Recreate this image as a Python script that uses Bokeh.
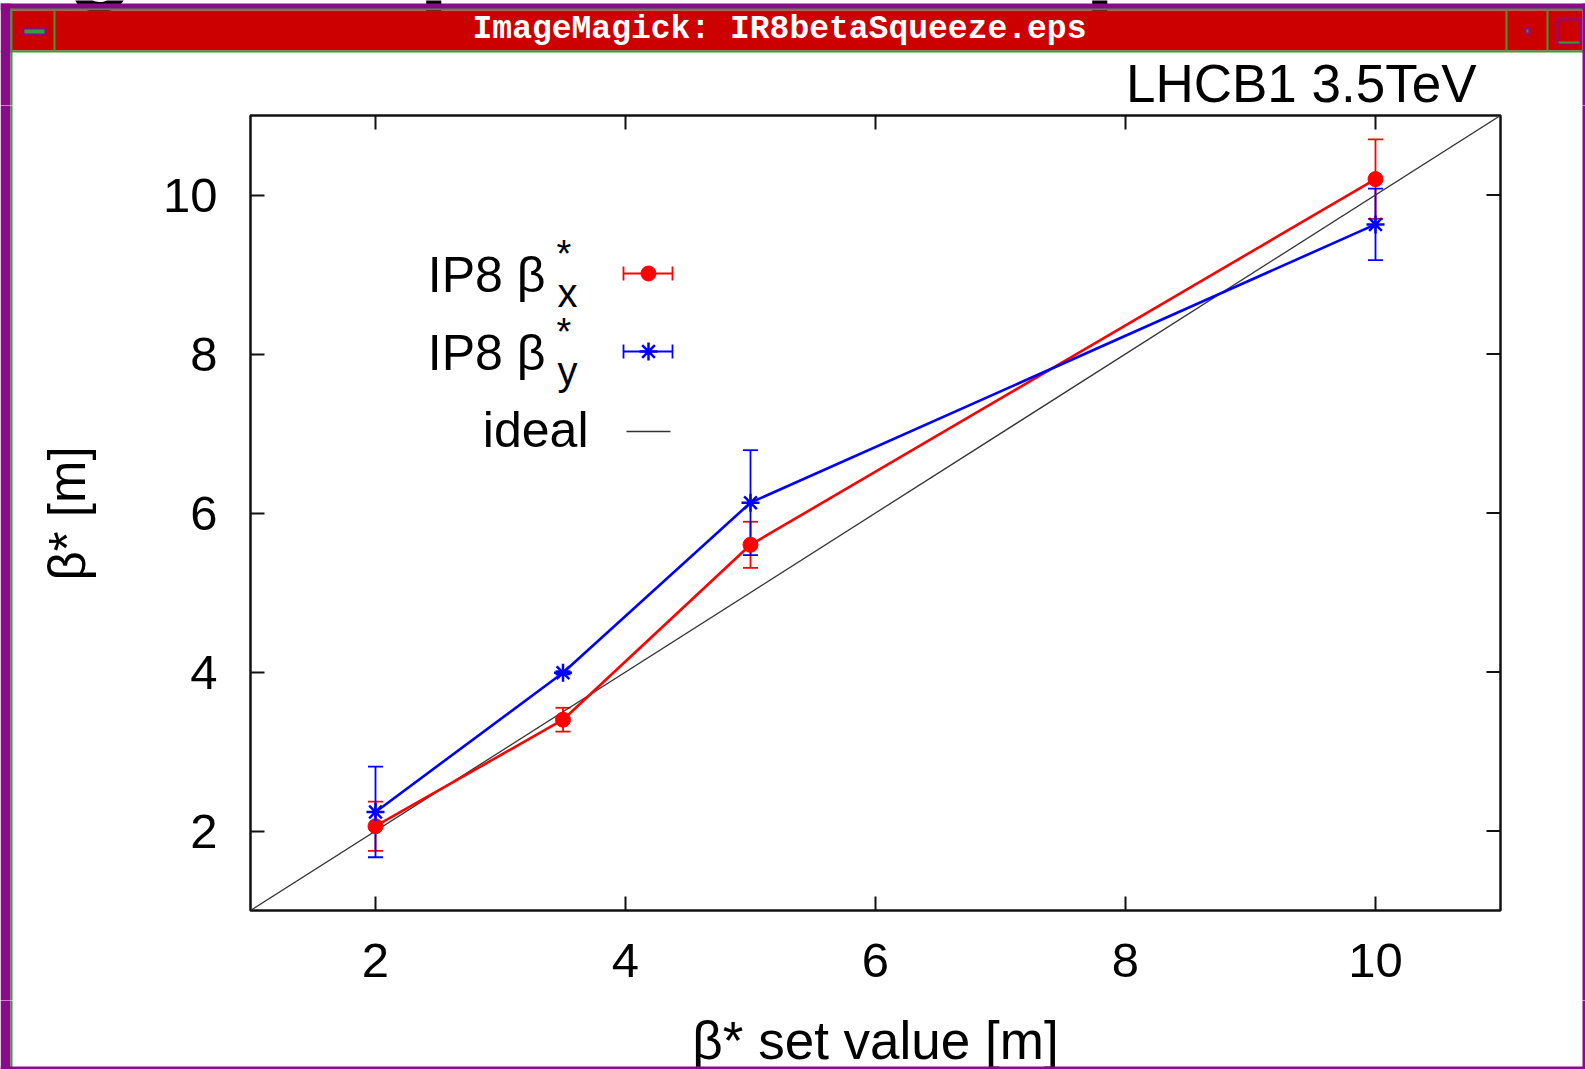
import math
from bokeh.plotting import figure
from bokeh.layouts import column, row
from bokeh.models import (Range1d, LinearAxis, FixedTicker, Whisker, TeeHead,
                          ColumnDataSource)
from bokeh.embed import file_html
from bokeh.resources import INLINE
from bokeh.core.properties import value

# ---------------- data ----------------
beta_set = [2.0, 3.5, 5.0, 10.0]
beta_x = [2.06, 3.40, 5.60, 10.20]
beta_x_err = [0.31, 0.15, 0.29, 0.50]
beta_y = [2.24, 3.99, 6.13, 9.63]
beta_y_err = [0.57, 0.02, 0.66, 0.45]
ideal_x = [1, 11]
ideal_y = [1, 11]
x_ticks = [2, 4, 6, 8, 10]
y_ticks = [2, 4, 6, 8, 10]
chart_title = "LHCB1 3.5TeV"
x_label = "β* set value [m]"
y_label = "β* [m]"
legend_main = ["IP8 β", "IP8 β", "ideal"]
legend_sub = ["x", "y", ""]
window_title = "ImageMagick: IR8betaSqueeze.eps"

FONT = "Liberation Sans"
W, H = 1585, 1069
FL, FR, FT, FB = 250, 1500, 115, 910          # plot frame on the page
MX0, MX1, MY0, MY1 = 140, 1510, 105, 1000     # main figure on the page

PURPLE = "#8a0a8a"
RED = "#cc0000"
GREEN = "#3a9a3a"
INK = "#111111"
BASE_SHIFT = 0.36   # text baseline correction (fraction of font size)


def by(y, size):
    """page baseline -> y to pass to the text glyph"""
    return y - BASE_SHIFT * size


def pix_fig(x0, x1, y0, y1):
    f = figure(width=x1 - x0, height=y1 - y0, x_range=Range1d(x0, x1),
               y_range=Range1d(y1, y0), output_backend="svg", toolbar_location=None,
               x_axis_type=None, y_axis_type=None, min_border=0, title=None,
               outline_line_color=None, frame_align=False)
    f.grid.visible = False
    f.background_fill_color = "white"
    f.border_fill_color = "white"
    return f


def chrome(f):
    q = [  # left, right, top, bottom, colour
        (0, W, 3, 9, PURPLE), (0, W, 8, 10, GREEN), (10, W - 3, 10, 50, RED),
        (0, W, 50, 52, GREEN), (0, 10, 3, H, PURPLE), (10, 12, 8, H, GREEN),
        (W - 3, W, 3, H, PURPLE), (0, W, H - 3, H, PURPLE),
        (53, 55, 10, 50, GREEN), (22, 46, 27, 35, PURPLE), (24, 44, 29, 33, GREEN),
        (1505, 1507, 10, 50, GREEN), (1524, 1530, 27, 34, PURPLE),
        (1526, 1528, 29, 32, GREEN), (1546, 1548, 10, 50, GREEN),
        (1556, 1581, 18, 44, PURPLE), (1558, 1579, 20, 41, RED),
        (1558, 1579, 41, 43, GREEN),
    ]
    f.quad(left=[a[0] for a in q], right=[a[1] for a in q], top=[a[2] for a in q],
           bottom=[a[3] for a in q], fill_color=[a[4] for a in q], line_color=None)


# ---------------- main plot ----------------
p = figure(width=MX1 - MX0, height=MY1 - MY0, output_backend="svg",
           toolbar_location=None, x_range=Range1d(1, 11), y_range=Range1d(1, 11),
           x_axis_type=None, y_axis_type=None, title=None, frame_align=False,
           min_border_left=FL - MX0, min_border_right=MX1 - FR,
           min_border_top=FT - MY0, min_border_bottom=MY1 - FB)
p.extra_x_ranges = {"cx": Range1d(FL, FR)}
p.extra_y_ranges = {"cy": Range1d(FB, FT)}
p.grid.visible = False
p.background_fill_color = "white"
p.border_fill_color = "white"
p.outline_line_color = INK
p.outline_line_width = 2.5

for side, ticks, standoff in (("below", x_ticks, 33), ("left", y_ticks, 33)):
    ax = LinearAxis(ticker=FixedTicker(ticks=ticks))
    ax.axis_line_color = None
    ax.major_tick_in = 14
    ax.major_tick_out = 0
    ax.major_tick_line_color = INK
    ax.major_tick_line_width = 2
    ax.minor_tick_line_color = None
    ax.major_label_text_font = FONT
    ax.major_label_text_font_size = "49px"
    ax.major_label_text_color = "black"
    ax.major_label_standoff = standoff
    p.add_layout(ax, side)

# mirrored ticks on the top and right frame edges (half clipped by the frame)
p.scatter(x_ticks, [p.y_range.end] * len(x_ticks), marker="dash", angle=math.pi / 2,
          size=28, line_color=INK, line_width=2)
p.scatter([p.x_range.end] * len(y_ticks), y_ticks, marker="dash", size=28,
          line_color=INK, line_width=2)

# ideal line
p.line(ideal_x, ideal_y, line_color="#333333", line_width=1.3)

srcx = ColumnDataSource(dict(x=beta_set, y=beta_x,
                             lo=[v - e for v, e in zip(beta_x, beta_x_err)],
                             hi=[v + e for v, e in zip(beta_x, beta_x_err)]))
srcy = ColumnDataSource(dict(x=beta_set, y=beta_y,
                             lo=[v - e for v, e in zip(beta_y, beta_y_err)],
                             hi=[v + e for v, e in zip(beta_y, beta_y_err)]))

for src, col in ((srcx, "#ff0000"), (srcy, "#0000ff")):
    p.add_layout(Whisker(source=src, base="x", upper="hi", lower="lo",
                         dimension="height", line_color=col, line_width=1.8,
                         upper_head=TeeHead(size=15, line_color=col, line_width=1.8),
                         lower_head=TeeHead(size=15, line_color=col, line_width=1.8)))

p.line("x", "y", source=srcx, line_color="#ff0000", line_width=2.6)
p.scatter("x", "y", source=srcx, marker="circle", size=15, fill_color="#ff0000",
          line_color="#ff0000")
p.line("x", "y", source=srcy, line_color="#0000ff", line_width=2.6)
p.scatter("x", "y", source=srcy, marker="asterisk", size=18, line_color="#0000ff",
          line_width=2.5)

# legend (page-pixel positions through the extra ranges)
row_base = [292, 370, 447]
for i, txt in enumerate(legend_main):
    right = 545 if legend_sub[i] else 588
    p.text(x=[right], y=[by(row_base[i], 50)], text=[txt], x_range_name="cx",
           y_range_name="cy", text_align="right", text_baseline="alphabetic",
           text_font=value(FONT), text_font_size=value("50px"), text_color="black")
    if legend_sub[i]:
        p.text(x=[557], y=[by(row_base[i] + 15, 40)], text=[legend_sub[i]],
               x_range_name="cx", y_range_name="cy", text_align="left",
               text_baseline="alphabetic", text_font=value(FONT),
               text_font_size=value("40px"), text_color="black")
        p.text(x=[556], y=[by(row_base[i] - 25, 38)], text=["*"], x_range_name="cx",
               y_range_name="cy", text_align="left", text_baseline="alphabetic",
               text_font=value(FONT), text_font_size=value("38px"), text_color="black")

samp_y = [273, 351, 431]
for yy, col in ((samp_y[0], "#ff0000"), (samp_y[1], "#0000ff")):
    p.segment(x0=[623, 623, 672], y0=[yy, yy - 7, yy - 7], x1=[672, 623, 672],
              y1=[yy, yy + 7, yy + 7], line_color=col, line_width=1.8,
              x_range_name="cx", y_range_name="cy")
p.scatter([648], [samp_y[0]], marker="circle", size=15, fill_color="#ff0000",
          line_color="#ff0000", x_range_name="cx", y_range_name="cy")
p.scatter([648], [samp_y[1]], marker="asterisk", size=18, line_color="#0000ff",
          line_width=2.5, x_range_name="cx", y_range_name="cy")
p.segment(x0=[626], y0=[samp_y[2]], x1=[670], y1=[samp_y[2]], line_color="#333333",
          line_width=1.3, x_range_name="cx", y_range_name="cy")

# ---------------- surrounding panels (window + titles) ----------------
top = pix_fig(0, W, 0, MY0)
top.text(x=[100, 418, 1084], y=[by(-10, 110)] * 3, text=["g", "p", "p"],
         text_align=["center", "left", "left"], text_baseline="alphabetic",
         text_font=value(FONT), text_font_style="bold",
         text_font_size=value("110px"), text_color="black")
chrome(top)
top.text(x=[779], y=[by(41, 33)], text=[window_title], text_align="center",
         text_baseline="alphabetic", text_font=value("Liberation Mono"),
         text_font_style="bold", text_font_size=value("33px"), text_color="white")
top.text(x=[1476], y=[by(102, 53)], text=[chart_title], text_align="right",
         text_baseline="alphabetic", text_font=value(FONT),
         text_font_size=value("53px"), text_color="black")

left = pix_fig(0, MX0, MY0, MY1)
chrome(left)
left.text(x=[85 - BASE_SHIFT * 51], y=[513], text=[y_label], angle=math.pi / 2,
          text_align="center", text_baseline="alphabetic", text_font=value(FONT),
          text_font_size=value("51px"), text_color="black")

right = pix_fig(MX1, W, MY0, MY1)
chrome(right)

bottom = pix_fig(0, W, MY1, H)
bottom.text(x=[875], y=[by(1059, 53)], text=[x_label], text_align="center",
            text_baseline="alphabetic", text_font=value(FONT),
            text_font_size=value("53px"), text_color="black")
chrome(bottom)

layout = column(top, row(left, p, right, spacing=0), bottom, spacing=0)
open("out.html", "w").write(file_html(layout, INLINE))
